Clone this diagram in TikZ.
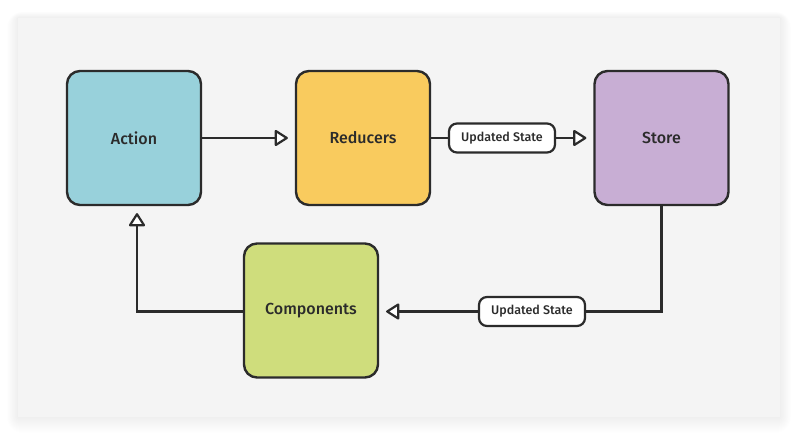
\documentclass[tikz,border=0pt]{standalone}
\usepackage{fontspec}
\setmainfont{Fira Sans}[BoldFont={Fira Sans Medium}]
\definecolor{panel}{HTML}{F4F4F4}
\definecolor{ink}{HTML}{2B2B2B}
\definecolor{actionc}{HTML}{98D1DB}
\definecolor{reducerc}{HTML}{F9CB5E}
\definecolor{storec}{HTML}{C8AED4}
\definecolor{compc}{HTML}{CFDD7C}
\tikzset{
  box/.style={draw=ink, line width=2.4pt, rounded corners=13pt, minimum width=134pt, minimum height=134pt, font=\bfseries\fontsize{16}{18}\selectfont, text=ink},
  tag/.style={draw=ink, fill=white, line width=2.2pt, rounded corners=8pt, minimum height=29pt, minimum width=106pt, font=\bfseries\fontsize{12.5}{14}\selectfont, text=ink},
  link/.style={draw=ink, line width=2.2pt},
  tiphead/.style={draw=ink, fill=white, line width=2.2pt, line join=round}
}
\begin{document}
\begin{tikzpicture}[x=1pt,y=-1pt]
\useasboundingbox (0,0) rectangle (798,435);
\fill[white] (0,0) rectangle (798,435);
\foreach \i in {1,...,16}{
  \fill[black, opacity=0.005, rounded corners=\i pt] (18-\i*0.7,18-\i*0.4) rectangle (780+\i*0.7,417+\i*1.0);
}
\fill[panel] (18,18) rectangle (780,417);
\node[box, fill=actionc] (action) at (134,138) {Action};
\node[box, fill=reducerc] (reducers) at (363,138) {Reducers};
\node[box, fill=storec] (store) at (661.5,138) {Store};
\node[box, fill=compc] (comp) at (311,310.5) {Components};
\node[tag] (t1) at (502,138) {Updated State};
\node[tag] (t2) at (532,311.5) {Updated State};
\coordinate (c1) at (661.5,311.5);
\coordinate (c2) at (137,311.5);
% arrow tip points
\coordinate (p1) at ([xshift=-8pt]reducers.west);
\coordinate (p2) at ([xshift=-8pt]store.west);
\coordinate (p3) at ([xshift=8pt]comp.east |- t2.west);
\coordinate (p4) at ([yshift=-8pt]action.south -| c2);
\draw[link] (action.east) -- ([xshift=-10pt]p1);
\draw[tiphead] (p1) -- ++(-11,-7) -- ++(0,14) -- cycle;
\draw[link] (reducers.east) -- (t1.west);
\draw[link] (t1.east) -- ([xshift=-10pt]p2);
\draw[tiphead] (p2) -- ++(-11,-7) -- ++(0,14) -- cycle;
\draw[link] (store.south) -- (c1) -- (t2.east);
\draw[link] (t2.west) -- ([xshift=10pt]p3);
\draw[tiphead] (p3) -- ++(11,-7) -- ++(0,14) -- cycle;
\draw[link] (comp.west |- c2) -- (c2) -- ([yshift=-10pt]p4);
\draw[tiphead] (p4) -- ++(-7,11) -- ++(14,0) -- cycle;
\end{tikzpicture}
\end{document}
